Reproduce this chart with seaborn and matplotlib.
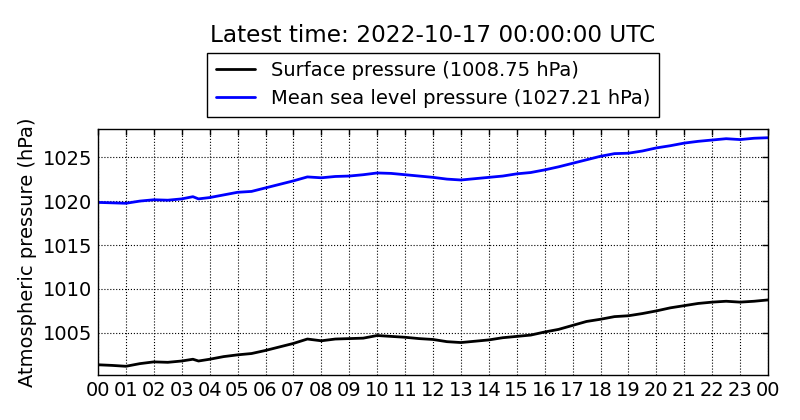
import matplotlib
matplotlib.use('Agg')
import matplotlib.pyplot as plt
import seaborn as sns
import pandas as pd

# Half-hourly readings (hours since 2022-10-16 00:00 UTC)
hours = [0, 0.5, 1, 1.5, 2, 2.5, 3, 3.4, 3.6, 4, 4.5, 5, 5.5, 6, 6.5, 7, 7.5,
         8, 8.5, 9, 9.5, 10, 10.5, 11, 11.5, 12, 12.5, 13, 13.5, 14, 14.5,
         15, 15.5, 16, 16.5, 17, 17.5, 18, 18.5, 19, 19.5, 20, 20.5, 21,
         21.5, 22, 22.5, 23, 23.5, 24]

surface = [1001.37, 1001.3, 1001.2, 1001.5, 1001.7, 1001.65, 1001.8, 1002.0,
           1001.8, 1002.0, 1002.3, 1002.5, 1002.65, 1003.0, 1003.4, 1003.8,
           1004.3, 1004.1, 1004.3, 1004.35, 1004.4, 1004.7, 1004.6, 1004.5,
           1004.35, 1004.25, 1004.0, 1003.9, 1004.05, 1004.2, 1004.45, 1004.6,
           1004.75, 1005.1, 1005.4, 1005.85, 1006.3, 1006.55, 1006.85, 1006.95,
           1007.2, 1007.5, 1007.85, 1008.1, 1008.35, 1008.5, 1008.6, 1008.5,
           1008.6, 1008.75]

msl = [1019.85, 1019.8, 1019.75, 1020.0, 1020.15, 1020.1, 1020.25, 1020.5,
       1020.25, 1020.4, 1020.7, 1021.0, 1021.1, 1021.5, 1021.9, 1022.3,
       1022.75, 1022.65, 1022.8, 1022.85, 1023.0, 1023.2, 1023.15, 1023.0,
       1022.85, 1022.7, 1022.5, 1022.4, 1022.55, 1022.7, 1022.85, 1023.1,
       1023.25, 1023.55, 1023.9, 1024.3, 1024.7, 1025.1, 1025.4, 1025.45,
       1025.7, 1026.05, 1026.3, 1026.6, 1026.8, 1026.95, 1027.1, 1027.0,
       1027.15, 1027.21]

tick_labels = ['%02d' % (h % 24) for h in range(25)]

df = pd.DataFrame({'hour': hours, 'surface': surface, 'msl': msl})

sns.set_style('white')
plt.rcParams['font.family'] = ['DejaVu Sans']
plt.rcParams['xtick.direction'] = 'in'
plt.rcParams['ytick.direction'] = 'in'
plt.rcParams['text.color'] = 'black'
plt.rcParams['axes.labelcolor'] = 'black'
plt.rcParams['xtick.color'] = 'black'
plt.rcParams['ytick.color'] = 'black'

fig = plt.figure(figsize=(8, 4.2), dpi=100)
fig.patch.set_facecolor('white')
ax = fig.add_axes([0.1225, 0.107, 0.8375, 0.586])

sns.lineplot(data=df, x='hour', y='surface', color='black', lw=2, ax=ax,
             label='Surface pressure (%.2f hPa)' % surface[-1])
sns.lineplot(data=df, x='hour', y='msl', color='blue', lw=2, ax=ax,
             label='Mean sea level pressure (%.2f hPa)' % msl[-1])

ax.set_xlim(0, 24)
ax.set_ylim(min(surface) - 1, max(msl) + 1)
ax.set_xticks(range(25))
ax.set_xticklabels(tick_labels)
ax.set_yticks([1005, 1010, 1015, 1020, 1025])
ax.tick_params(labelsize=14, top=True, right=True, length=4, width=1,
               color='black', pad=4)
ax.set_xlabel('')
ax.set_ylabel('Atmospheric pressure (hPa)', fontsize=14)
ax.grid(True, linestyle=':', color='black', lw=0.8)
for spine in ax.spines.values():
    spine.set_color('black')
    spine.set_linewidth(1)

leg = ax.legend(loc='lower center', bbox_to_anchor=(0.5, 1.01), fontsize=14,
                fancybox=False, framealpha=1, edgecolor='black',
                handlelength=2, borderpad=0.45, labelspacing=0.45)
leg.get_frame().set_linewidth(1)

fig.text(0.541, 1 - 35 / 420, 'Latest time: 2022-10-17 00:00:00 UTC',
         ha='center', va='center', fontsize=16.7)

fig.savefig('out.png', dpi=100, facecolor='white')
